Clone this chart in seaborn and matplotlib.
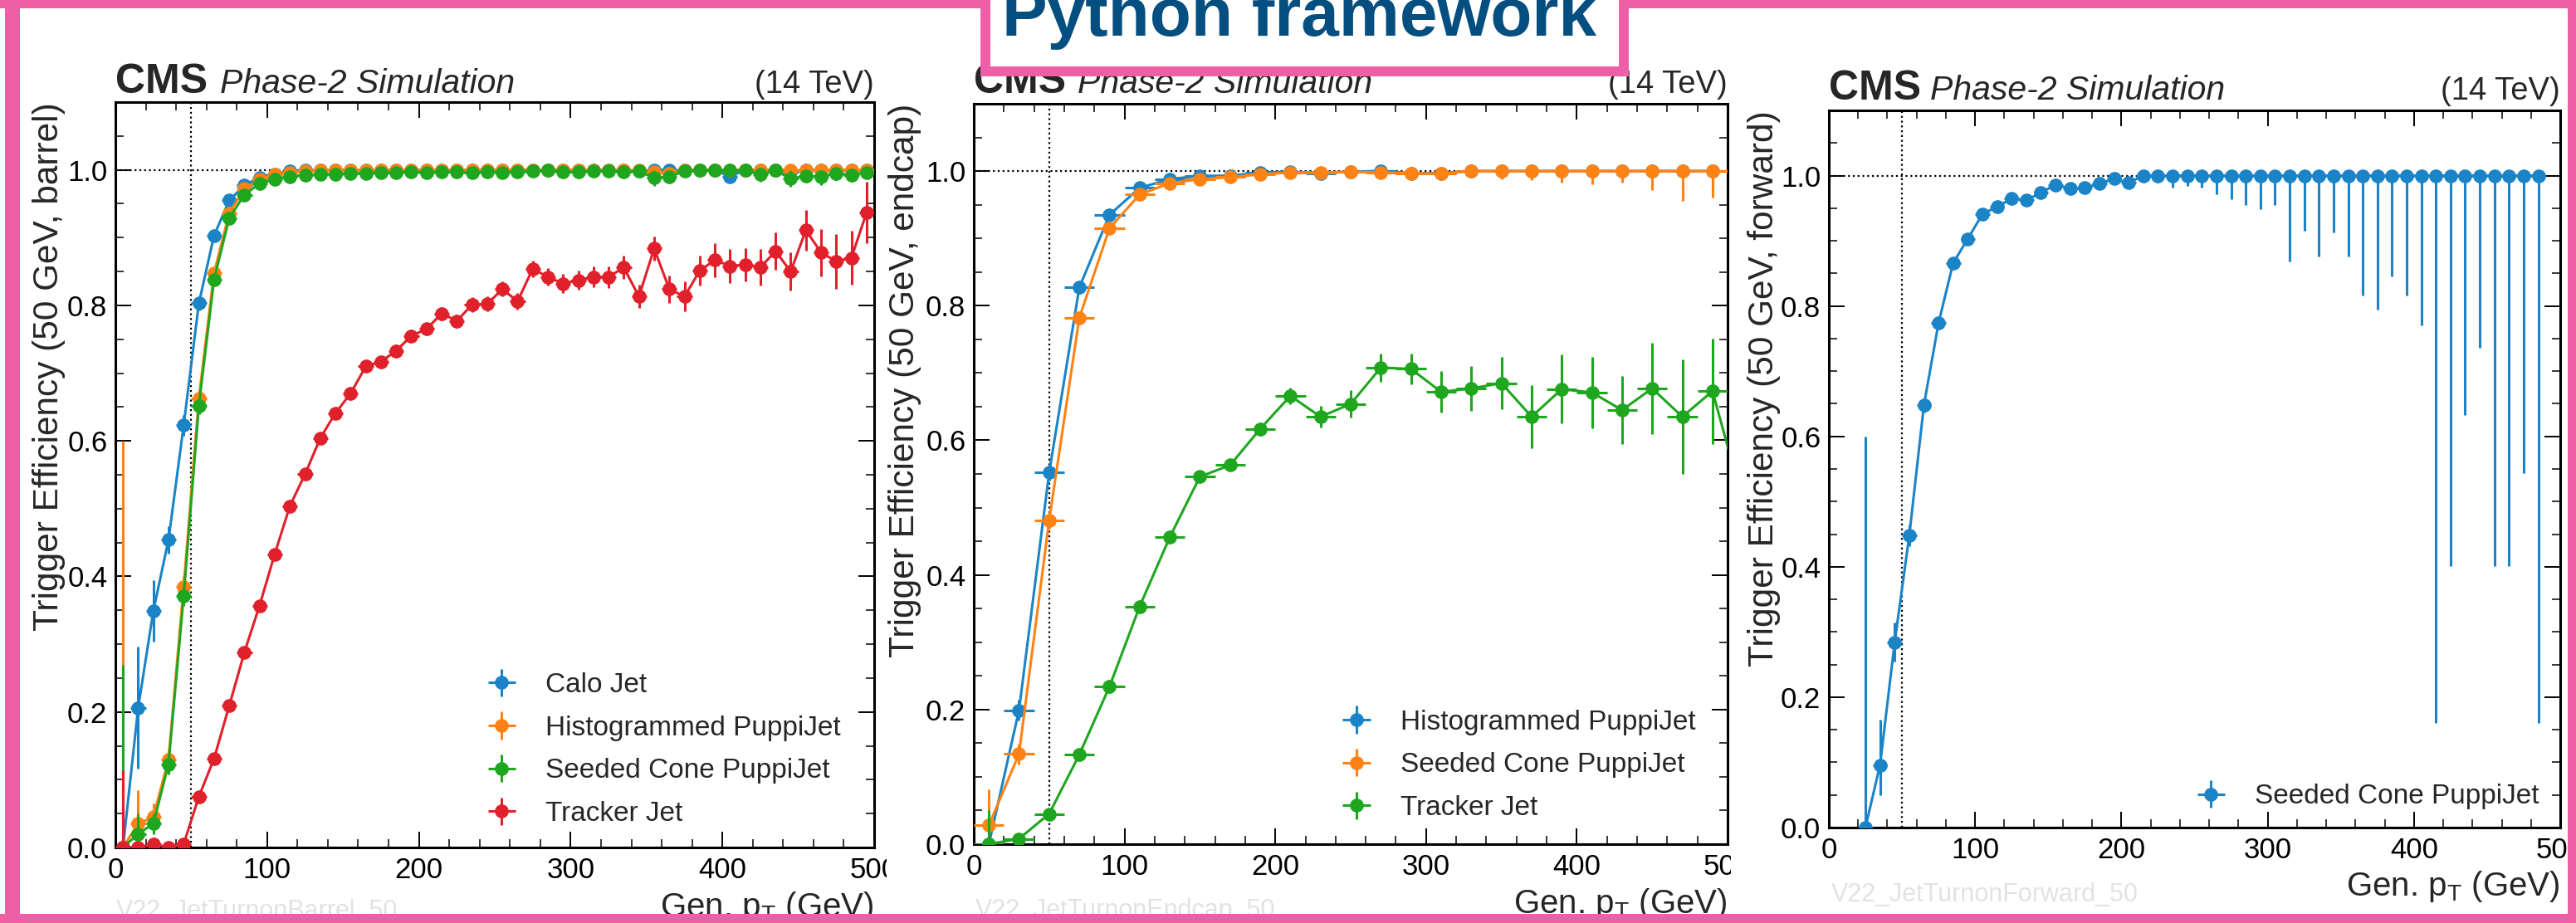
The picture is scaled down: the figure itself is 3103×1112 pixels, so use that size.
import numpy as np
import pandas as pd
import matplotlib
matplotlib.use("Agg")
import matplotlib.pyplot as plt
import seaborn as sns
from matplotlib.patches import Rectangle
from matplotlib.ticker import MultipleLocator

# ---------------------------------------------------------------- data
# Barrel: 10 GeV bins
pt_barrel = np.arange(5, 500, 10)
calo_barrel = [0.0, 0.206, 0.349, 0.454, 0.623, 0.803, 0.903, 0.955, 0.977, 0.989,
               0.994, 0.998, 1.0, 0.999, 1.0, 1.0, 0.999, 1.0, 0.999, 1.0,
               1.0, 0.999, 1.0, 1.0, 1.0, 0.999, 1.0, 1.0, 0.999, 1.0,
               1.0, 1.0, 1.0, 0.999, 0.998, 1.0, 1.0, 0.999, 1.0, 1.0,
               0.990, 1.0, 1.0, 1.0, 0.997, 1.0, 1.0, 1.0, 1.0, 1.0]
calo_barrel_err = [0.46, 0.09, 0.045, 0.02, 0.015, 0.01, 0.007, 0.006, 0.005, 0.004,
                   0.003, 0.003, 0.003, 0.003, 0.003, 0.003, 0.003, 0.003, 0.003, 0.003,
                   0.003, 0.003, 0.003, 0.003, 0.003, 0.004, 0.004, 0.004, 0.004, 0.004,
                   0.005, 0.005, 0.005, 0.005, 0.006, 0.006, 0.006, 0.006, 0.007, 0.007,
                   0.008, 0.008, 0.008, 0.008, 0.009, 0.009, 0.01, 0.01, 0.01, 0.01]
hist_barrel = [0.0, 0.035, 0.045, 0.130, 0.385, 0.663, 0.848, 0.936, 0.972, 0.986,
               0.993, 0.996, 0.998, 0.999, 0.999, 1.0, 0.999, 1.0, 0.999, 0.999,
               1.0, 0.999, 1.0, 1.0, 1.0, 0.999, 1.0, 1.0, 1.0, 1.0,
               1.0, 1.0, 0.999, 1.0, 0.999, 0.997, 0.995, 1.0, 1.0, 1.0,
               1.0, 1.0, 1.0, 1.0, 1.0, 0.999, 1.0, 1.0, 1.0, 1.0]
hist_barrel_err = [0.60, 0.05, 0.02, 0.015, 0.015, 0.012, 0.008, 0.006, 0.005, 0.004,
                   0.003, 0.003, 0.003, 0.003, 0.003, 0.003, 0.003, 0.003, 0.003, 0.003,
                   0.003, 0.003, 0.003, 0.003, 0.003, 0.004, 0.004, 0.004, 0.004, 0.004,
                   0.005, 0.005, 0.005, 0.005, 0.006, 0.006, 0.006, 0.006, 0.007, 0.007,
                   0.008, 0.008, 0.008, 0.008, 0.009, 0.009, 0.01, 0.01, 0.01, 0.01]
seeded_barrel = [0.0, 0.020, 0.035, 0.123, 0.371, 0.652, 0.838, 0.929, 0.963, 0.980,
                 0.986, 0.990, 0.992, 0.993, 0.994, 0.995, 0.995, 0.996, 0.996, 0.997,
                 0.996, 0.997, 0.997, 0.996, 0.997, 0.996, 0.997, 0.998, 0.999, 0.997,
                 0.997, 0.998, 0.998, 0.997, 0.998, 0.988, 0.990, 0.998, 0.999, 0.999,
                 0.999, 0.999, 0.993, 0.999, 0.987, 0.991, 0.990, 0.995, 0.992, 0.996]
seeded_barrel_err = [0.27, 0.03, 0.015, 0.015, 0.015, 0.012, 0.008, 0.006, 0.005, 0.004,
                     0.003, 0.003, 0.003, 0.003, 0.003, 0.003, 0.003, 0.003, 0.003, 0.003,
                     0.003, 0.003, 0.003, 0.003, 0.003, 0.004, 0.004, 0.004, 0.004, 0.004,
                     0.005, 0.005, 0.005, 0.005, 0.006, 0.012, 0.01, 0.006, 0.007, 0.007,
                     0.008, 0.008, 0.01, 0.008, 0.012, 0.01, 0.012, 0.01, 0.01, 0.01]
tracker_barrel = [0.0, 0.0, 0.005, 0.0, 0.005, 0.075, 0.131, 0.209, 0.288, 0.357,
                  0.433, 0.504, 0.551, 0.604, 0.641, 0.670, 0.710, 0.717, 0.733, 0.755,
                  0.765, 0.788, 0.777, 0.801, 0.802, 0.824, 0.806, 0.854, 0.842, 0.832,
                  0.837, 0.842, 0.842, 0.856, 0.813, 0.884, 0.824, 0.813, 0.851, 0.867,
                  0.858, 0.860, 0.856, 0.880, 0.850, 0.911, 0.878, 0.865, 0.870, 0.937]
tracker_barrel_err = [0.114, 0.006, 0.01, 0.005, 0.008, 0.008, 0.008, 0.008, 0.008, 0.008,
                      0.008, 0.008, 0.008, 0.008, 0.008, 0.008, 0.008, 0.008, 0.009, 0.009,
                      0.009, 0.010, 0.010, 0.011, 0.011, 0.011, 0.012, 0.012, 0.013, 0.014,
                      0.014, 0.015, 0.016, 0.017, 0.017, 0.018, 0.020, 0.022, 0.022, 0.025,
                      0.025, 0.025, 0.027, 0.028, 0.028, 0.030, 0.035, 0.040, 0.040, 0.045]

# Endcap: 20 GeV bins
pt_endcap = np.arange(10, 500, 20)
hist_endcap = [0.0, 0.199, 0.552, 0.827, 0.935, 0.975, 0.988, 0.993, 0.993, 0.998,
               0.999, 0.997, 0.999, 1.0, 0.997, 0.997, 1.0, 1.0, 1.0, 1.0,
               1.0, 1.0, 1.0, 1.0, 1.0]
hist_endcap_err = [0.06, 0.015, 0.012, 0.01, 0.007, 0.005, 0.004, 0.003, 0.003, 0.003,
                   0.002, 0.003, 0.003, 0.002, 0.003, 0.003, 0.004, 0.005, 0.006, 0.007,
                   0.008, 0.008, 0.01, 0.015, 0.02]
seeded_endcap = [0.028, 0.134, 0.481, 0.782, 0.915, 0.965, 0.982, 0.988, 0.991, 0.995,
                 0.998, 0.998, 0.999, 0.998, 0.997, 0.996, 1.0, 1.0, 1.0, 1.0,
                 1.0, 1.0, 1.0, 1.0, 1.0]
seeded_endcap_err = [0.054, 0.015, 0.012, 0.01, 0.007, 0.005, 0.004, 0.003, 0.003, 0.003,
                     0.002, 0.003, 0.003, 0.003, 0.003, 0.004, 0.007, 0.012, 0.014, 0.017,
                     0.020, 0.017, 0.028, 0.044, 0.039]
pt_endcap_trk = np.arange(10, 520, 20)
tracker_endcap = [0.0, 0.008, 0.045, 0.133, 0.234, 0.353, 0.456, 0.546, 0.563, 0.617,
                  0.666, 0.635, 0.654, 0.708, 0.706, 0.672, 0.677, 0.685, 0.635, 0.676,
                  0.671, 0.645, 0.677, 0.635, 0.673, 0.510]
tracker_endcap_err = [0.05, 0.006, 0.008, 0.01, 0.01, 0.01, 0.01, 0.008, 0.008, 0.010,
                      0.012, 0.016, 0.020, 0.021, 0.023, 0.031, 0.033, 0.039, 0.047, 0.051,
                      0.053, 0.050, 0.068, 0.085, 0.078, 0.08]

# Forward: 10 GeV bins (first filled bin at 25 GeV)
pt_forward = np.arange(25, 490, 10)
seeded_forward = [0.0, 0.096, 0.284, 0.448, 0.648, 0.774, 0.866, 0.903, 0.941, 0.952,
                  0.965, 0.962, 0.974, 0.986, 0.980, 0.981, 0.988, 0.995, 0.989,
                  1.0, 1.0, 1.0, 1.0, 1.0, 1.0, 1.0, 1.0, 1.0, 1.0,
                  1.0, 1.0, 1.0, 1.0, 1.0, 1.0, 1.0, 1.0, 1.0, 1.0,
                  1.0, 1.0, 1.0, 1.0, 1.0, 1.0, 1.0, 1.0]
seeded_forward_lo = [0.0, 0.046, 0.03, 0.017, 0.012, 0.01, 0.007, 0.006, 0.005, 0.005,
                     0.005, 0.005, 0.005, 0.005, 0.005, 0.005, 0.005, 0.006, 0.009,
                     0.004, 0.011, 0.018, 0.016, 0.019, 0.029, 0.036, 0.045, 0.051, 0.045,
                     0.132, 0.085, 0.124, 0.087, 0.124, 0.184, 0.205, 0.154, 0.184, 0.230,
                     0.840, 0.599, 0.367, 0.264, 0.599, 0.599, 0.456, 0.840]
seeded_forward_hi = [0.60, 0.069, 0.03, 0.017, 0.012, 0.01, 0.007, 0.006, 0.005, 0.005,
                     0.005, 0.005, 0.005, 0.005, 0.005, 0.005, 0.005, 0.004, 0.009,
                     0.0, 0.0, 0.0, 0.0, 0.0, 0.0, 0.0, 0.0, 0.0, 0.0,
                     0.0, 0.0, 0.0, 0.0, 0.0, 0.0, 0.0, 0.0, 0.0, 0.0,
                     0.0, 0.0, 0.0, 0.0, 0.0, 0.0, 0.0, 0.0]

labels_barrel = ["Calo Jet", "Histogrammed PuppiJet", "Seeded Cone PuppiJet", "Tracker Jet"]
labels_endcap = ["Histogrammed PuppiJet", "Seeded Cone PuppiJet", "Tracker Jet"]
labels_forward = ["Seeded Cone PuppiJet"]
ylabels = ["Trigger Efficiency (50 GeV, barrel)",
           "Trigger Efficiency (50 GeV, endcap)",
           "Trigger Efficiency (50 GeV, forward)"]
watermarks = ["V22_JetTurnonBarrel_50", "V22_JetTurnonEndcap_50", "V22_JetTurnonForward_50"]
threshold = 50
title = "Python framework"

# ---------------------------------------------------------------- style
BLUE, ORANGE, GREEN, RED = "#1b84c6", "#ff8214", "#1fa61f", "#e0202a"
PINK = "#ee5fa7"
W, H, DPI = 3103, 1112, 100

sns.set_theme(style="ticks")
plt.rcParams["font.family"] = ["Liberation Sans", "DejaVu Sans"]
plt.rcParams.update({
    "xtick.direction": "in", "ytick.direction": "in",
    "xtick.top": True, "ytick.right": True,
    "xtick.major.size": 14, "ytick.major.size": 14,
    "xtick.minor.size": 7, "ytick.minor.size": 7,
    "xtick.major.width": 1.4, "ytick.major.width": 1.4,
    "xtick.minor.width": 1.1, "ytick.minor.width": 1.1,
    "xtick.major.pad": 8, "ytick.major.pad": 7,
    "xtick.labelsize": 25, "ytick.labelsize": 25,
    "axes.linewidth": 2.2, "axes.edgecolor": "black",
    "xtick.color": "black", "ytick.color": "black",
    "mathtext.fontset": "custom", "mathtext.rm": "Liberation Sans",
    "mathtext.it": "Liberation Sans:italic",
})

fig = plt.figure(figsize=(W / DPI, H / DPI), dpi=DPI)
fig.patch.set_facecolor("white")


def px_axes(l, t, r, b, z):
    ax = fig.add_axes([l / W, 1 - b / H, (r - l) / W, (b - t) / H])
    ax.set_zorder(z)
    return ax


def series(ax, x, y, lo, hi, xw, color, label, z):
    y = np.asarray(y, float)
    lo = np.asarray(lo, float)
    hi = np.minimum(np.asarray(hi, float), 1.0 - y)
    df = pd.DataFrame({"x": x, "y": y})
    sns.lineplot(data=df, x="x", y="y", ax=ax, color=color, lw=2.2,
                 legend=False, sort=False, errorbar=None, zorder=z)
    c = ax.errorbar(x, y, xerr=xw, yerr=[lo, hi], fmt="o", color=color, ms=12,
                    mew=0, elinewidth=2.2, capsize=4.5, capthick=2.0,
                    label=label, zorder=z + 0.05)
    return c


def decorate(ax, ylabel, wm, lab_y, cms_off, ylab_x, leg_handles, leg_anchor, wm_px):
    ax.set_xlim(0, 500)
    ax.set_ylim(0, 1.1)
    ax.xaxis.set_major_locator(MultipleLocator(100))
    ax.xaxis.set_minor_locator(MultipleLocator(20))
    ax.yaxis.set_major_locator(MultipleLocator(0.2))
    ax.yaxis.set_minor_locator(MultipleLocator(0.05))
    ax.yaxis.set_major_formatter(matplotlib.ticker.FormatStrFormatter("%.1f"))
    ax.axhline(1.0, color="black", ls=(0, (1, 1.6)), lw=1.6, zorder=1)
    ax.axvline(threshold, color="black", ls=(0, (1, 1.6)), lw=1.6, zorder=1)
    ax.set_xlabel(r"Gen. p$_\mathrm{T}$ (GeV)", fontsize=29, loc="right")
    ax.xaxis.set_label_coords(1.0, lab_y)
    ax.set_ylabel(ylabel, fontsize=30.5, loc="top")
    ax.yaxis.set_label_coords(ylab_x, 1.0)
    for s in ax.spines.values():
        s.set_visible(True)
    ax.text(0, 1 + cms_off, "CMS", transform=ax.transAxes, fontsize=36,
            fontweight="bold", va="baseline", ha="left")
    ax.text(0.138, 1 + cms_off, "Phase-2 Simulation", transform=ax.transAxes,
            fontsize=29.5, fontstyle="italic", va="baseline", ha="left")
    ax.text(1.0, 1 + cms_off, "(14 TeV)", transform=ax.transAxes, fontsize=27.5,
            va="baseline", ha="right")
    ax.legend(handles=leg_handles, loc="upper left", bbox_to_anchor=leg_anchor,
              frameon=False, fontsize=24, borderpad=0, borderaxespad=0,
              handlelength=1.45, handletextpad=0.87, labelspacing=0.62)
    fig.text(wm_px[0] / W, 1 - wm_px[1] / H, wm, fontsize=22, color="#e2e2e2",
             va="top", ha="left", zorder=ax.get_zorder() + 0.1)


# ---------------------------------------------------------------- panel 1
ax1 = px_axes(139, 123, 1053, 1021, 1)
h = []
for k, (vals, err, col, lab) in enumerate(zip(
        [calo_barrel, hist_barrel, seeded_barrel, tracker_barrel],
        [calo_barrel_err, hist_barrel_err, seeded_barrel_err, tracker_barrel_err],
        [BLUE, ORANGE, GREEN, RED], labels_barrel)):
    lo = np.minimum(err, vals)
    h.append(series(ax1, pt_barrel, vals, lo, err, 5, col, lab, 3 + k))
decorate(ax1, ylabels[0], watermarks[0], -0.057, 0.0125, -0.066, h, (0.4825, 0.235),
         (140, 1083))

# white background of the second picture (covers overflow of panel 1)
fig.add_artist(Rectangle((1068 / W, 0), (2085 - 1068) / W, 1, transform=fig.transFigure,
                         facecolor="white", edgecolor="none", zorder=1.5))

# ---------------------------------------------------------------- panel 2
ax2 = px_axes(1173, 125, 2081, 1017, 2)
h = []
for k, (xx, vals, err, col, lab) in enumerate(zip(
        [pt_endcap, pt_endcap, pt_endcap_trk],
        [hist_endcap, seeded_endcap, tracker_endcap],
        [hist_endcap_err, seeded_endcap_err, tracker_endcap_err],
        [BLUE, ORANGE, GREEN], labels_endcap)):
    lo = np.minimum(err, vals)
    h.append(series(ax2, xx, vals, lo, err, 10, col, lab, 3 + k))
decorate(ax2, ylabels[1], watermarks[1], -0.057, 0.0146, -0.069, h, (0.481, 0.182),
         (1175, 1082))

fig.add_artist(Rectangle((2085 / W, 0), (W - 2085) / W, 1, transform=fig.transFigure,
                         facecolor="white", edgecolor="none", zorder=2.5))

# ---------------------------------------------------------------- panel 3
ax3 = px_axes(2203, 133, 3084, 997, 3)
h = [series(ax3, pt_forward, seeded_forward, seeded_forward_lo, seeded_forward_hi,
            5, BLUE, labels_forward[0], 3)]
decorate(ax3, ylabels[2], watermarks[2], -0.058, 0.015, -0.066, h, (0.495, 0.061),
         (2206, 1063))

# ---------------------------------------------------------------- slide frame
frame_z = 10
for (x0, y0, x1, y1) in [(0, 0, W, 10), (6, 0, 24, H), (0, 1101, W, H), (W - 10, 0, W, H)]:
    fig.add_artist(Rectangle((x0 / W, 1 - y1 / H), (x1 - x0) / W, (y1 - y0) / H,
                             transform=fig.transFigure, facecolor=PINK,
                             edgecolor="none", zorder=frame_z))
fig.add_artist(Rectangle((1187 / W, 1 - 86 / H), (1956 - 1187) / W, 120 / H,
                         transform=fig.transFigure, facecolor="white", edgecolor=PINK,
                         lw=8.6, zorder=frame_z + 1))
fig.text(1207 / W, 1 - 43 / H, title, fontsize=59, fontweight="bold",
         color="#044e80", va="baseline", ha="left", zorder=frame_z + 2)

fig.savefig("out.png", dpi=DPI)
